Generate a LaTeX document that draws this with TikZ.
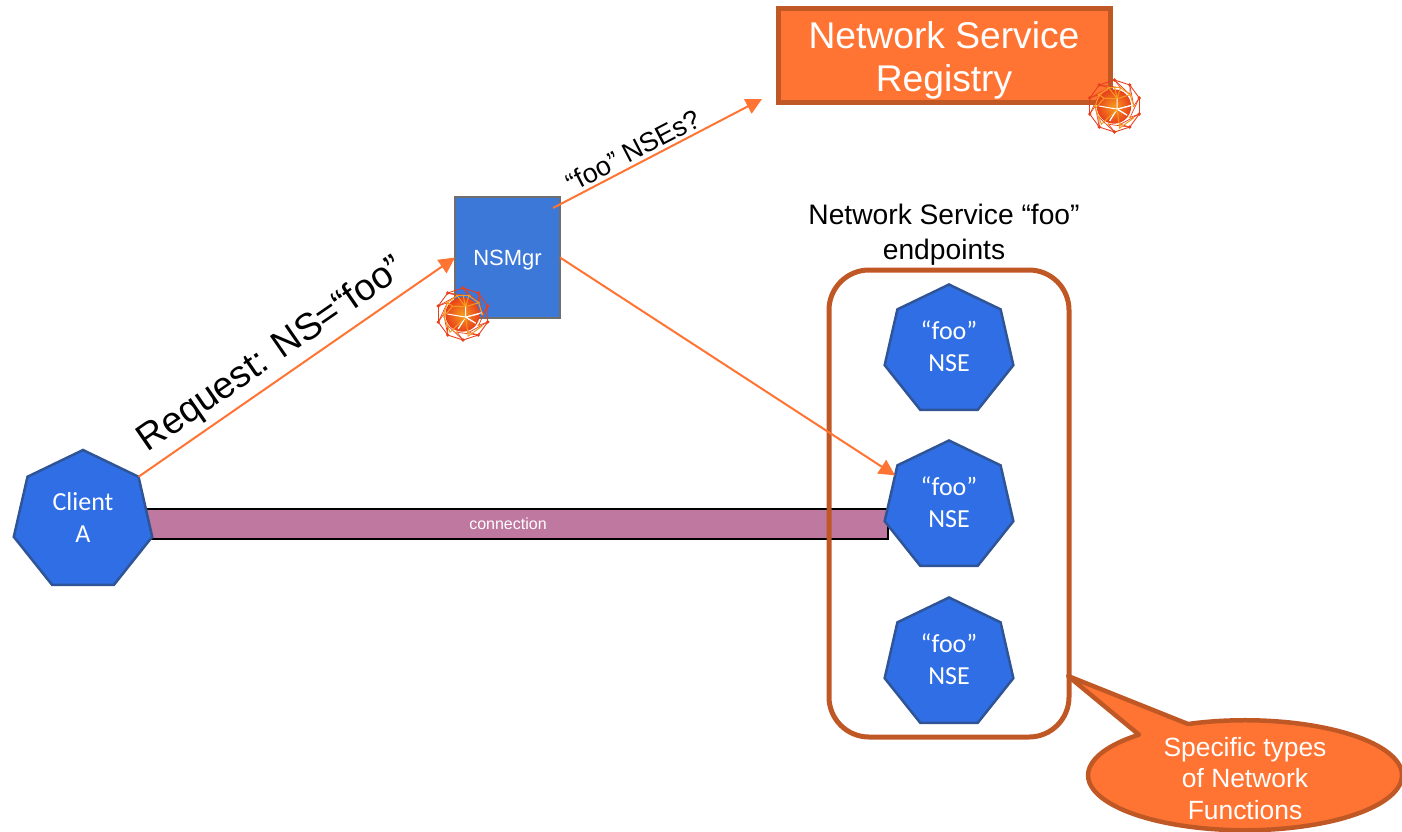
\documentclass[tikz,border=0pt]{standalone}
\usepackage{fontspec}
\usepackage{xcolor}
\usetikzlibrary{arrows.meta,shapes.geometric}
\setmainfont{Liberation Sans}
\newfontfamily\calibrifont{Carlito}
\definecolor{heptblue}{RGB}{48,110,230}
\definecolor{heptedge}{RGB}{47,85,151}
\definecolor{mgrblue}{RGB}{60,120,216}
\definecolor{mgredge}{RGB}{110,110,110}
\definecolor{signalorange}{RGB}{255,116,51}
\definecolor{rustedge}{RGB}{192,88,38}
\definecolor{connpink}{RGB}{191,120,159}
\definecolor{meshred}{RGB}{232,64,28}
\definecolor{meshamber}{RGB}{247,154,30}
\tikzset{
    hept/.style={draw=heptedge, fill=heptblue, line width=2.5pt, regular polygon, regular polygon sides=7, minimum size=#1, inner sep=0pt, outer sep=0pt},
    hepttext/.style={text=white, align=center, font=\calibrifont\fontsize{26}{32}\selectfont},
    msgarrow/.style={signalorange, line width=2pt, -{Triangle[length=16pt,width=16pt]}},
}
% geodesic ball badge
\newcommand{\meshball}[2]{
    \begin{scope}[shift={(#1,#2)}, x=26pt, y=26pt]
        \shade[inner color=meshamber, outer color=meshred] (-0.02,-0.02) circle (0.66);
        \foreach \a in {0,36,...,324} {
            \draw[meshred, line width=0.9pt] (\a+18:1) -- (\a+54:1);
            \draw[meshred, line width=0.7pt] (\a+18:1) -- (\a:0.74) -- (\a+54:1);
        }
        \foreach \a in {0,36,...,144} {
            \draw[meshamber, line width=1pt] (\a:0.74) -- (\a+36:0.74);
        }
        \foreach \a/\b in {180/252, 252/324, 324/0} {
            \draw[white, line width=1pt] (\a:0.6) -- (0.1,-0.12) -- (\b:0.6);
        }
        \draw[meshamber, line width=1pt] (36:0.74) -- (0.1,0.28) -- (108:0.74) (0.1,0.28) -- (-0.4,0.3) -- (144:0.74) (0.1,0.28) -- (0,0.74) (72:0.74) -- (0.1,0.28);
        \draw[meshamber, line width=1pt] (-0.4,0.3) -- (-0.74,-0.1) (-0.74,-0.1) -- (-0.5,-0.7) -- (0.1,-0.12) (0.1,-0.12) -- (0.2,-0.85) -- (0.75,-0.45);
        \draw[white, line width=1pt] (0.1,0.28) -- (0.1,-0.12) -- (0.72,0.05);
        \foreach \a in {0,36,...,324} {
            \fill[meshred] (\a+18:1) circle (0.07);
            \fill[meshamber] (\a:0.74) circle (0.05);
        }
    \end{scope}
}

\begin{document}
\begin{tikzpicture}[x=1pt, y=-1pt]
    \useasboundingbox (0,0) rectangle (1402,831);

    % Connection bar
    \node[draw=black, fill=connpink, line width=1.5pt, minimum width=760pt, minimum height=30pt, inner sep=0pt, outer sep=0pt, text=white, font=\fontsize{16}{18}\selectfont] (conn) at (508,524) {connection};

    % Endpoint group
    \node[draw=rustedge, line width=5pt, rounded corners=40pt, minimum width=240pt, minimum height=467pt, outer sep=0pt] (nsebox) at (949,503.5) {};
    \node[align=center, inner sep=0pt, font=\fontsize{28.2}{35}\selectfont] (nsetitle) at (944,235) {Network Service “foo”\\endpoints};

    % Client and endpoints
    \node[hept=142pt] (clienta) at (83,521) {};
    \node[hepttext] (clientatext) at (83,517) {Client\\A};
    \foreach \name/\cy in {nsetop/350.5, nsemid/506.5, nsebot/663.5} {
        \node[hept=132pt] (\name) at (949,\cy) {};
        \node[hepttext] (\name text) at (949,\cy-4) {“foo”\\NSE};
    }

    % Manager and registry
    \node[draw=mgredge, fill=mgrblue, line width=2pt, minimum width=105pt, minimum height=121pt, outer sep=0pt] (nsmgr) at (507.5,257.5) {};
    \node[text=white, font=\fontsize{22}{26}\selectfont] (nsmgrtext) at (507.5,260) {NSMgr};
    \node[draw=rustedge, fill=signalorange, line width=5pt, minimum width=332pt, minimum height=94pt, outer sep=0pt, inner sep=0pt] (registry) at (944,55.5) {};
    \node[text=white, align=center, inner sep=0pt, font=\fontsize{37.2}{43}\selectfont] (registrytext) at (944,60) {Network Service\\Registry};

    % Messages
    \coordinate (askstart) at (553,208);
    \coordinate (askend) at (762,99);
    \draw[msgarrow] (clienta.corner 7) -- (nsmgr.west);
    \draw[msgarrow] (askstart) -- (askend);
    \draw[msgarrow] (nsmgr.east) -- (nsemid.150);
    \node[rotate=34.6, inner sep=0pt, font=\fontsize{37.5}{40}\selectfont] (requestlabel) at (272,355.5) {Request: NS=“foo”};
    \node[rotate=27.5, inner sep=0pt, font=\fontsize{27}{30}\selectfont] (asklabel) at (633.5,150.5) {“foo” NSEs?};

    % Badges
    \meshball{1114.5}{106}
    \meshball{463}{314}

    % Callout
    \draw[draw=rustedge, fill=signalorange, line width=4.5pt, line join=round] (1068,676) -- (1188,724) arc[start angle=-111.3, end angle=227.5, x radius=157, y radius=55] -- cycle;
    \node[text=white, align=center, inner sep=0pt, font=\fontsize{26.4}{31.5}\selectfont] (calloutlabel) at (1245,778.5) {Specific types\\of Network\\Functions};
\end{tikzpicture}
\end{document}
